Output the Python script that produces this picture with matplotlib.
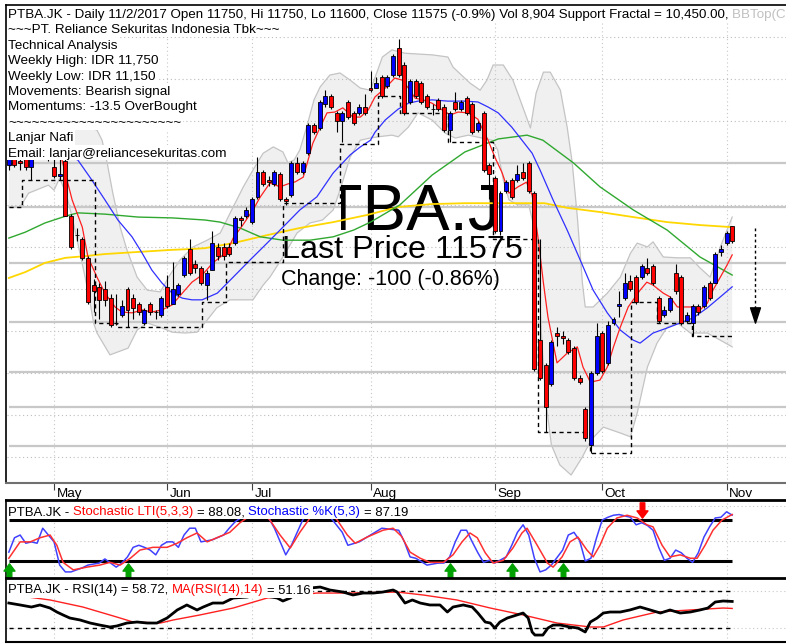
import numpy as np
import matplotlib
matplotlib.use('Agg')
import matplotlib.pyplot as plt
from matplotlib.path import Path
from matplotlib.patches import Rectangle
from matplotlib.transforms import Bbox

plt.rcParams['font.family'] = ['Liberation Sans', 'DejaVu Sans']

W, H = 786, 644

# ---- daily bars, late Apr 2017 .. 2 Nov 2017 (bar index = trading day) ----
opens = [12475, 12550, 12525, 12550, 12450, 12575, 12625, 12550, 12450, 12350,
         12525, 11875, 11650, 11600, 11375, 11050, 11025, 11000, 10900, 10600,
         10700, 11000, 10900, 10825, 10600, 10825, 10725, 10700, 11025, 10825,
         10950, 11175, 11475, 11300, 11250, 11050, 11225, 11500, 11500, 11500,
         11550, 11850, 11875, 11800, 12100, 12400, 12300, 12250, 12375, 12075,
         12125, 12500, 12400, 12625, 12950, 12925, 13200, 13300, 13100, 13000,
         13225, 13100, 13100, 13175, 13400, 13400, 13525, 13425, 13550, 13875,
         13675, 13225, 13475, 13450, 13300, 13150, 13250, 13175, 12900, 13225,
         13150, 13275, 13200, 12900, 13100, 12475, 12325, 11700, 12175, 12300,
         12300, 12400, 12500, 12150, 10400, 10100, 9875, 10475, 10450, 10400,
         10300, 9950, 9575, 9150, 10000, 10475, 10125, 10600, 10800, 10900,
         11100, 11150, 11150, 11250, 11275, 10900, 10700, 10750, 11200, 11150,
         10625, 10600, 10800, 10800, 11075, 11075, 11450, 11550, 11750]
highs = [12600, 12600, 12575, 12575, 12600, 12675, 12700, 12650, 12550, 12550,
         12575, 11900, 11725, 11625, 11400, 11125, 11075, 11100, 10950, 10950,
         10875, 11025, 10950, 10850, 10775, 10850, 10750, 10925, 11175, 11325,
         11075, 11400, 11600, 11350, 11275, 11225, 11700, 11550, 11550, 11550,
         11875, 11875, 11975, 12100, 12575, 12425, 12350, 12425, 12400, 12100,
         12525, 12575, 12525, 12975, 12975, 13250, 13375, 13325, 13125, 13125,
         13250, 13125, 13200, 13325, 13600, 13525, 13550, 13550, 13800, 13975,
         13700, 13500, 13500, 13475, 13325, 13200, 13275, 13200, 13125, 13350,
         13250, 13300, 13225, 13000, 13125, 12500, 12350, 12175, 12300, 12325,
         12475, 12500, 12525, 12175, 11600, 10125, 10400, 10550, 10500, 10425,
         10325, 9975, 9600, 10025, 10600, 10500, 10625, 10675, 10975, 11200,
         11175, 11175, 11300, 11375, 11300, 10925, 10800, 10925, 11300, 11175,
         10725, 10825, 10825, 11050, 11100, 11450, 11525, 11700, 11750]
lows = [12425, 12450, 12425, 12425, 12300, 12550, 12550, 12525, 12325, 12300,
        11875, 11475, 11575, 11350, 10825, 10725, 10650, 10800, 10550, 10575,
        10675, 10550, 10650, 10700, 10575, 10700, 10650, 10675, 10775, 10825,
        10925, 11150, 11175, 11200, 11050, 10875, 11225, 11350, 11350, 11400,
        11525, 11750, 11850, 11775, 12075, 12225, 12225, 12225, 12050, 12000,
        12100, 12375, 12375, 12600, 12850, 12900, 13175, 13150, 12875, 12750,
        13025, 12950, 13075, 13075, 13350, 13400, 13275, 13400, 13525, 13525,
        13075, 13200, 13275, 13200, 13150, 13075, 13125, 12875, 12750, 13125,
        13125, 13075, 12850, 12875, 12400, 12075, 11675, 11650, 12150, 12075,
        12275, 12300, 12150, 10025, 9925, 9300, 9850, 10325, 10350, 10225,
        9925, 9875, 9200, 9050, 9975, 10000, 10100, 10575, 10675, 10875,
        10975, 10825, 11125, 11175, 11050, 10600, 10675, 10725, 10950, 10575,
        10600, 10450, 10700, 10775, 10875, 11075, 11400, 11525, 11550]
closes = [12550, 12475, 12500, 12450, 12550, 12625, 12575, 12600, 12350, 12375,
          11875, 11500, 11650, 11375, 10850, 10975, 10875, 10875, 10575, 10600,
          10800, 10750, 10775, 10725, 10750, 10725, 10725, 10900, 10800, 11000,
          11050, 11375, 11200, 11250, 11075, 11200, 11550, 11400, 11400, 11425,
          11850, 11825, 11950, 12075, 12400, 12250, 12275, 12400, 12075, 12050,
          12500, 12400, 12500, 12950, 12875, 13225, 13300, 13175, 13000, 13100,
          13050, 12975, 13175, 13100, 13375, 13450, 13300, 13525, 13775, 13550,
          13100, 13475, 13300, 13225, 13175, 13150, 13150, 12900, 13100, 13150,
          13225, 13100, 12875, 12975, 12425, 12375, 11700, 12150, 12275, 12100,
          12375, 12325, 12175, 10050, 9950, 9600, 10375, 10450, 10425, 10250,
          9950, 9900, 9225, 10000, 10450, 10025, 10575, 10650, 10825, 11075,
          11000, 10850, 11275, 11200, 11075, 10625, 10750, 10900, 10975, 10600,
          10700, 10800, 10725, 11025, 10900, 11425, 11475, 11675, 11575]

month_names = ['May', 'Jun', 'Jul', 'Aug', 'Sep', 'Oct', 'Nov']
month_first_bar = [8, 28, 43, 64, 86, 105, 127]

# overlays: (bar position, value)
fast_pos = [9.4, 11.2, 13.0, 14.0, 15.6, 17.0, 18.8, 20.0, 21.8, 23.6, 25.3, 27.1, 28.9, 30.7,
            32.4, 34.2, 36.1, 38.6, 39.7, 41.4, 43.2, 44.5, 46.2, 48.0, 49.4, 50.7, 52.1, 53.8,
            55.1, 56.3, 57.7, 59.1, 60.9, 62.2, 63.6, 64.8, 66.6, 68.3, 69.6, 70.7, 71.9, 73.3,
            74.9, 76.7, 78.1, 79.5, 81.3, 83.0, 83.9, 84.8, 86.0, 87.3, 88.5, 90.1, 91.6, 92.6,
            93.7, 94.6, 95.4, 97.0, 98.8, 100.6, 101.6, 102.9, 104.6, 105.9, 107.0, 108.2, 109.6,
            111.7, 112.9, 114.0, 115.8, 117.0, 118.3, 119.3, 121.1, 122.3, 123.6, 124.6, 125.9,
            127.1, 128.0]
fast_val = [12540, 12065, 11740, 11385, 11145, 10955, 10790, 10730, 10720, 10755, 10730, 10755,
            10815, 10955, 11085, 11170, 11315, 11445, 11610, 11765, 11945, 12100, 12265, 12220,
            12255, 12280, 12335, 12740, 12930, 13100, 13110, 13160, 13050, 13050, 13135, 13290,
            13395, 13515, 13490, 13395, 13275, 13255, 13215, 13135, 13075, 13110, 13100, 13025,
            12895, 12775, 12575, 12385, 12145, 12220, 12275, 12120, 11585, 11075, 10670, 10125,
            10240, 10315, 10075, 9895, 9920, 10075, 10315, 10550, 10790, 10990, 11085, 11050,
            10955, 10910, 10790, 10790, 10790, 10755, 10835, 10990, 11145, 11290, 11410]

mid_pos = [0.2, 1.4, 5.0, 9.0, 12.2, 14.7, 17.0, 19.3, 21.8, 23.6, 25.3, 27.1, 28.9, 30.7, 32.4,
           34.2, 36.9, 39.7, 42.7, 45.7, 48.5, 51.5, 54.5, 57.4, 60.4, 62.2, 64.0, 64.8, 66.6,
           68.9, 70.7, 72.4, 74.9, 77.7, 80.7, 83.0, 84.8, 86.6, 89.0, 90.8, 92.6, 94.0, 96.3,
           98.8, 101.1, 103.4, 105.9, 108.2, 110.5, 111.7, 114.0, 116.5, 118.8, 121.1, 123.6,
           125.9, 128.0]
mid_val = [12470, 12550, 12635, 12620, 12540, 12300, 12065, 11825, 11625, 11430, 11230, 11075,
           10955, 10895, 10875, 10875, 10955, 11145, 11350, 11550, 11740, 11945, 12100, 12385,
           12600, 12695, 12775, 12870, 13015, 13145, 13215, 13240, 13255, 13240, 13240, 13230,
           13170, 13100, 12930, 12775, 12620, 12420, 12065, 11705, 11350, 10990, 10720, 10515,
           10395, 10360, 10480, 10540, 10600, 10660, 10780, 10910, 11030]

bb_up_pos = [0, 6, 12, 14.5, 15.6, 16.5, 17.4, 18.4, 19.7, 20.9, 22.7, 24.5, 26.8, 28.5, 30.3,
             32.6, 35.1, 37.4, 39.7, 41.5, 43.2, 45.0, 46.8, 48.5, 49.4, 50.5, 51.5, 52.8, 54.0,
             55.1, 56.8, 58.6, 60.4, 62.2, 64.0, 66.1, 67.8, 70.1, 75.0, 77.7, 78.6, 81.6, 83.4,
             84.6, 85.7, 87.5, 89.2, 92.3, 93.3, 94.6, 95.8, 97.6, 98.8, 99.7, 100.6, 101.5,
             102.0, 103.4, 105.9, 108.2, 110.0, 111.2, 113.0, 114.0, 115.8, 118.3, 120.6, 122.3,
             124.1, 125.9, 128.0]
bb_up_val = [12945, 12955, 12945, 12920, 12895, 12775, 12505, 12145, 11740, 11470, 11145, 10990,
             10970, 11170, 11350, 11505, 11585, 11670, 11980, 12220, 12420, 12620, 12695, 12635,
             12505, 12540, 12660, 12955, 13255, 13410, 13550, 13575, 13490, 13395, 13370, 13765,
             13850, 13810, 13790, 13765, 13645, 13455, 13370, 13490, 13670, 13670, 13490, 12920,
             13335, 13585, 13585, 13370, 12930, 12505, 11860, 11075, 10790, 10790, 10955, 11145,
             11430, 11550, 11505, 11565, 11385, 11375, 11375, 11255, 11145, 11505, 11860]
bb_lo_pos = [0, 2.0, 3.5, 7.0, 8.0, 9.0, 10.2, 11.2, 12.2, 13.5, 14.4, 15.0, 15.6, 17.9, 21.1,
             22.7, 24.5, 27.1, 28.9, 31.2, 33.3, 35.1, 36.8, 39.1, 41.0, 43.2, 45.0, 46.2, 48.5,
             51.0, 53.3, 55.5, 57.4, 58.6, 60.4, 62.2, 63.9, 65.3, 67.8, 68.9, 70.7, 72.4, 74.9,
             77.2, 79.0, 81.3, 85.5, 86.5, 87.5, 88.5, 90.0, 92.0, 93.5, 94.2, 95.0, 96.0, 97.5,
             99.5, 101.5, 103.0, 105.2, 108.2, 110.0, 111.2, 113.0, 114.7, 116.5, 118.3, 120.6,
             123.6, 125.9, 128.0]
bb_lo_val = [11980, 11980, 12145, 12240, 12180, 12325, 12120, 11860, 11550, 11145, 10835, 10600,
             10480, 10220, 10300, 10515, 10600, 10540, 10490, 10480, 10490, 10635, 10780, 10875,
             10875, 10875, 11050, 11145, 11385, 11670, 11790, 11825, 11945, 12180, 12575, 12775,
             12800, 12815, 12835, 12815, 12930, 13100, 13015, 12860, 12800, 12835, 12775, 12660,
             12300, 12065, 12005, 12005, 11585, 10515, 9685, 9150, 8910, 8790, 9005, 9205, 9360,
             9290, 9245, 9530, 10075, 10360, 10550, 10600, 10480, 10480, 10395, 10315]

slow_pos = [0, 2.9, 6.4, 10.0, 13.5, 17.0, 22.9, 28.9, 32.4, 34.7, 39.7, 45.7, 51.5, 57.4,
            63.4, 68.9, 74.9, 80.7, 86.6, 91.4, 94.8, 98.8, 104.6, 110.5, 116.5, 122.3, 128.0]
slow_val = [11135, 11205, 11315, 11375, 11395, 11420, 11445, 11470, 11480, 11490, 11550, 11645,
            11730, 11800, 11885, 11980, 12015, 12025, 12025, 12025, 12025, 11970, 11920, 11860,
            11800, 11765, 11740]

long_pos = [0, 2.9, 6.4, 10.0, 12.2, 17.0, 22.9, 28.9, 34.7, 37.4, 40.9, 44.5, 48.5, 53.3,
            57.4, 61.0, 64.0, 69.2, 74.9, 80.7, 86.6, 91.7, 94.5, 97.6, 99.9, 104.6, 110.5,
            116.5, 122.3, 128.0]
long_val = [11610, 11680, 11790, 11870, 11910, 11895, 11860, 11850, 11825, 11800, 11730, 11625,
            11585, 11585, 11625, 11705, 11800, 12005, 12360, 12635, 12790, 12835, 12775, 12620,
            12505, 12220, 11945, 11705, 11385, 11170]

# support fractal: bar position where each level starts
sup_pos = [0, 2.3, 15.3, 19.2, 34.2, 38.4, 48.5, 58.6, 65.3, 69.2, 77.7, 85.7, 93.7, 102.9,
           110.1, 114.7, 120.9]
sup_val = [11975, 12300, 10600, 10550, 10850, 11325, 12025, 12725, 13300, 13100, 12750, 11600,
           9300, 9050, 10850, 10600, 10450]

level_lines = [12500, 11980, 11315, 10610, 10015, 9600, 9135]

# stochastic
k_pos = [0, 1, 2, 3, 4, 5, 6, 7, 8, 9, 10, 11, 13, 14, 16, 17, 18, 19, 20, 21, 22, 23, 24, 25,
         26, 27, 28, 29, 30, 31, 32, 33, 34, 36, 38, 39, 40, 41, 42, 44, 45, 46, 47, 49, 50, 52,
         53, 55, 57, 59, 60, 62, 64, 66, 69, 70, 71, 72, 74, 76, 77, 78, 79, 80, 81, 82, 83, 84,
         85, 86, 88, 89, 90, 91, 92, 93, 94, 95, 96, 98, 99, 100, 101, 102, 103, 104, 105, 106,
         107, 108, 109, 110, 111, 112, 113, 114, 115, 116, 117, 118, 119, 120, 121, 122, 123,
         124, 125, 126, 127, 128]
k_val = [33, 54, 58, 46, 48, 46, 68, 58, 48, 14, 4, 4, 10, 14, 17, 23, 17, 11, 17, 26, 40, 43,
         40, 36, 29, 43, 48, 48, 40, 58, 68, 68, 48, 51, 58, 68, 77, 83, 90, 95, 92, 83, 68, 29,
         43, 80, 92, 97, 83, 62, 43, 48, 58, 68, 65, 48, 26, 24, 14, 17, 17, 26, 48, 65, 65, 48,
         32, 18, 21, 17, 26, 43, 62, 73, 58, 24, 4, 7, 14, 36, 58, 62, 50, 20, 24, 54, 80, 84,
         87, 88, 86, 84, 73, 76, 72, 65, 40, 21, 24, 36, 32, 24, 18, 32, 55, 70, 83, 84, 92,
         87.19]
d_pos = [0, 2, 3.8, 5.5, 7.3, 8.5, 9.6, 11.4, 13.8, 16.1, 17.9, 19.7, 21.5, 23.2, 25.5, 28.0,
         29.8, 31.5, 33.3, 35.1, 36.8, 39.1, 40.9, 43.0, 45.0, 46.2, 48.0, 49.8, 51.5, 53.3,
         55.0, 57.0, 58.1, 59.9, 61.3, 63.4, 66.2, 68.0, 69.5, 71.0, 72.8, 74.5, 76.9, 78.6,
         80.2, 81.6, 82.9, 84.3, 85.7, 87.5, 89.2, 90.8, 91.7, 93.5, 95.3, 96.3, 97.9, 99.3,
         100.7, 102.3, 103.4, 104.6, 105.9, 107.6, 109.4, 111.2, 112.9, 114.0, 115.6, 117.0,
         118.8, 120.6, 121.8, 123.2, 124.6, 126.2, 128.0]
d_val = [24, 48, 48, 54, 58, 43, 18, 7, 11, 14, 18, 14, 24, 36, 40, 40, 46, 54, 61, 48, 54, 62,
         76, 88, 90, 80, 58, 39, 62, 83, 92, 90, 80, 58, 46, 55, 65, 68, 56, 33, 24, 18, 18, 29,
         48, 61, 54, 32, 17, 21, 39, 61, 68, 43, 17, 11, 26, 48, 55, 36, 26, 43, 68, 83, 87, 83,
         73, 70, 43, 26, 29, 24, 24, 43, 65, 80, 88.08]
buy_bars = [0, 21, 78, 89, 98]
sell_bars = [112]

# RSI
rsi_pos = [0, 2, 4, 5.5, 7.3, 8.5, 9.6, 10.8, 12.6, 14.4, 16.1, 17.9, 19.1, 20.9, 22.7, 24.5,
           26.2, 28.0, 29.8, 31.5, 33.3, 34.4, 36.1, 37.9, 39.7, 42.2, 44, 46, 47.5, 48.5, 49.8,
           51, 53.3, 55.1, 56.8, 59.1, 60.9, 62.7, 64.5, 66.2, 68.0, 68.7, 70.1, 71.4, 72.8,
           74.5, 76.3, 77.6, 78.6, 80.4, 82.0, 83.0, 84.3, 85.2, 86.0, 86.9, 88.2, 89.9, 91.0,
           91.9, 92.6, 93.1, 94.5, 95.4, 96.3, 97.6, 99.3, 100.7, 102.0, 102.9, 104.1, 105.2,
           106.4, 108.2, 109.9, 111.7, 113.5, 115.3, 117.0, 118.8, 120.6, 122.3, 123.7, 125.0,
           126.4, 128.0]
rsi_val = [57, 54.9, 52.7, 54.9, 51.6, 47.3, 44.1, 40.8, 38.7, 35.4, 33.2, 31.1, 32.2, 35.4,
           36.5, 35.4, 35.4, 40.8, 49.5, 54.9, 49.5, 52.7, 57, 57, 62.4, 63.5, 66, 64, 62.4,
           59.2, 62.4, 68, 73.2, 74.3, 71.1, 68.9, 65.7, 67.8, 67.8, 68.9, 71.1, 68.9, 57, 60.3,
           57, 54.9, 54.9, 47.3, 52.7, 54.9, 52.7, 46.2, 36.5, 35.4, 30, 36.5, 40.8, 44.1, 46.2,
           40.8, 25.7, 22.4, 22.4, 30, 33.2, 33.2, 31.1, 30, 25.7, 36.5, 40.8, 46.2, 47.3, 47.3,
           49.5, 52.7, 49.5, 46.2, 49.5, 46.2, 47.3, 49.5, 51.6, 58.1, 59.2, 58.72]
rsi_ma_pos = [2, 7.3, 13.1, 19.1, 22.0, 26.8, 29.1, 33.8, 39.7, 45.7, 51.5, 54.5, 60.4, 68.7,
              73.3, 79.3, 85.2, 91.0, 97.0, 102.9, 105.2, 108.7, 114.7, 120.6, 126.4, 128]
rsi_ma_val = [64.6, 60.3, 52.7, 41.9, 36.5, 35.4, 38.7, 44.1, 51.6, 62.4, 65.7, 67.8, 67.8,
              68.9, 65.7, 60.3, 51.6, 44.1, 35.4, 31.1, 31.1, 38.7, 47.3, 49.5, 51.6, 51.16]

# ---------------------------------------------------------------------------
fig = plt.figure(figsize=(W / 100, H / 100), dpi=100)
fig.patch.set_facecolor('white')


def fx(px):
    return px / W


def fy(py):
    return 1 - py / H


L, R = 6, 800
ax = fig.add_axes([fx(L), fy(483), (R - L) / W, (483 - 5) / H])
ax_st = fig.add_axes([fx(L), fy(578), (R - L) / W, (578 - 500) / H])
ax_rsi = fig.add_axes([fx(L), fy(642), (R - L) / W, (642 - 578) / H])

n = len(closes)
last = n - 1
xlim = (-0.5, 140.0)
for a in (ax, ax_st, ax_rsi):
    a.set_xlim(*xlim)
    a.set_yticks([])
    a.spines['right'].set_visible(False)
    a.spines['left'].set_color('black')
    a.spines['left'].set_linewidth(1.2)
    for b in month_first_bar:
        a.axvline(b, color='#c8c8c8', lw=0.8, ls=(0, (1, 2.5)), zorder=0.4)

# ---- main price panel ----
ax.set_ylim(8695, 14384)
ax.spines['top'].set_linewidth(1.2)
ax.spines['bottom'].set_color('#707070')
ax.spines['bottom'].set_linewidth(1.5)

ax.fill(np.concatenate([bb_up_pos, bb_lo_pos[::-1]]),
        np.concatenate([bb_up_val, bb_lo_val[::-1]]),
        color='#f0f0f0', lw=0, zorder=0.2)
ax.plot(bb_up_pos, bb_up_val, color='#c4c4c4', lw=0.9, zorder=0.3)
ax.plot(bb_lo_pos, bb_lo_val, color='#c4c4c4', lw=0.9, zorder=0.3)

for p in range(9000, 14001, 500):
    ax.hlines(p, -0.3, xlim[1], color='#bdbdbd', lw=0.8, ls=(0, (1, 2.5)), zorder=0.5)
ax.hlines(level_lines, 0, xlim[1], color='#c8c8c8', lw=1.6, zorder=0.6)

ax.plot(slow_pos, slow_val, color='#ffd700', lw=1.3, zorder=2)
ax.plot(long_pos, long_val, color='#30a830', lw=1.0, zorder=2)
ax.plot(mid_pos, mid_val, color='#3030ff', lw=0.9, zorder=2)
ax.plot(fast_pos, fast_val, color='#ff2020', lw=0.9, zorder=2.1)

ax.plot(sup_pos + [last], sup_val + [sup_val[-1]], drawstyle='steps-post',
        color='black', lw=1.0, ls=(0, (3, 2.5)), zorder=2.5)

idx = np.arange(n)
o, h, l, c = (np.array(v, dtype=float) for v in (opens, highs, lows, closes))
body_col = np.where(c > o, '#0000ff', np.where(c < o, '#ff0000', 'black'))
ax.vlines(idx, l, h, color='black', lw=0.8, zorder=2.9)
ax.bar(idx, np.abs(c - o), bottom=np.minimum(o, c), width=0.7, color=body_col,
       edgecolor='black', linewidth=0.6, zorder=3)

# projected move towards the level line below
target = level_lines[3]
tx = last + 4
px_price = (14384 - 8695) / (483 - 5)
ax.plot([tx, tx], [h[-1] - 2 * px_price, target + 14 * px_price], color='black', lw=1.0,
        ls=(0, (2, 2)), zorder=3)
tri = Path([(-0.65, 1), (0.65, 1), (0, -1), (-0.65, 1)], closed=True)
ax.plot([tx], [target + 7.5 * px_price], marker=tri, ms=11, color='black', ls='none', zorder=3)

ax.set_xticks(month_first_bar)
ax.set_xticklabels([])
ax.tick_params(axis='x', length=5, width=0.8, color='#404040', direction='out')

# big watermark texts (the ticker is shown through a clipping window)
big = ax.text(fx(279.5), fy(229.5), 'PTBA.JK', transform=fig.transFigure, fontsize=47,
              color='black', va='baseline', ha='left', zorder=1.8)
big.set_clip_box(Bbox.from_extents(341, H - 236, 502, H - 168))
big.set_clip_on(True)
ax.text(fx(282), fy(258), 'Last Price %d' % closes[-1], transform=fig.transFigure,
        fontsize=23.3, color='black', va='baseline', ha='left', zorder=1.8)
chg = closes[-1] - closes[-2]
ax.text(fx(281), fy(285.5), 'Change: %d (%.2f%%)' % (chg, 100.0 * chg / closes[-2]),
        transform=fig.transFigure, fontsize=15.5, color='black', va='baseline', ha='left',
        zorder=1.8)

# ---- stochastic panel ----
ax_st.set_ylim(-4.9, 109.3)
ax_st.set_xticks([])
ax_st.spines['top'].set_linewidth(2)
ax_st.spines['bottom'].set_visible(False)
for lev in (100, 50):
    ax_st.axhline(lev, color='#c8c8c8', lw=0.8, ls=(0, (1, 2.5)), zorder=0.5)
ax_st.hlines([80, 20], 0, last, color='black', lw=2.2, zorder=1)
ax_st.plot(k_pos, k_val, color='#4040ff', lw=1.1, zorder=2)
ax_st.plot(d_pos, d_val, color='#ff3030', lw=1.1, zorder=2.1)
up_arrow = Path([(-0.3, -1), (0.3, -1), (0.3, 0.05), (0.72, 0.05), (0, 1), (-0.72, 0.05),
                 (-0.3, 0.05), (-0.3, -1)], closed=True)
down_arrow = Path([(x, -y) for x, y in up_arrow.vertices], closed=True)
ax_st.plot(buy_bars, [6] * len(buy_bars), ls='none', marker=up_arrow, ms=11,
           color='#00a000', clip_on=False, zorder=3)
ax_st.plot(sell_bars, [94.5] * len(sell_bars), ls='none', marker=down_arrow, ms=11,
           color='#ff0000', clip_on=False, zorder=3)

# ---- RSI panel ----
ax_rsi.set_ylim(14.9, 84.05)
ax_rsi.set_xticks([])
ax_rsi.spines['top'].set_linewidth(2)
ax_rsi.spines['bottom'].set_linewidth(1.5)
for lev in (70, 30):
    ax_rsi.axhline(lev, color='#c8c8c8', lw=0.8, ls=(0, (1, 2.5)), zorder=0.5)
ax_rsi.hlines([70, 30], 0, last, color='black', lw=1.0, ls=(0, (3, 3)), zorder=1)
ax_rsi.plot(rsi_ma_pos, rsi_ma_val, color='#ff2020', lw=1.0, zorder=2)
ax_rsi.plot(rsi_pos, rsi_val, color='black', lw=2.0, zorder=2.1)

# ---- text overlays (each line sits on its own white strip) ----
renderer = fig.canvas.get_renderer()
FS = 9.7


def text_width(s, size):
    t = fig.text(0, 0, s, fontsize=size)
    w = t.get_window_extent(renderer).width
    t.remove()
    return w


def write_line(x, base, parts, size=FS, box=None):
    gap = text_width('a a', size) - text_width('aa', size)
    cx = x
    for k, (s, col) in enumerate(parts):
        if k:
            cx += gap
        t = fig.text(fx(cx), fy(base), s, color=col, fontsize=size, va='baseline',
                     ha='left', zorder=4)
        cx += t.get_window_extent(renderer).width
    if box is not None:
        top, bottom = box
        fig.add_artist(Rectangle((fx(x - 1), fy(bottom)), (cx - x + 3) / W, (bottom - top) / H,
                                 transform=fig.transFigure, facecolor='white',
                                 edgecolor='none', zorder=3.5))
    return cx


header = ('PTBA.JK - Daily 11/2/2017 Open %d, Hi %d, Lo 11600, Close %d (-0.9%%) Vol 8,904 '
          'Support Fractal = %s,' % (opens[-1], highs[-1], closes[-1],
                                     format(sup_val[-1], ',.2f')))
write_line(8, 18, [(header, 'black'), ('BBTop(C,20,2) = 12,139.06', '#c0c0c0')],
           size=9.63, box=(6.5, 21.5))

info_lines = [
    '~~~PT. Reliance Sekuritas Indonesia Tbk~~~',
    'Technical Analysis',
    'Weekly High: IDR 11,750',
    'Weekly Low: IDR 11,150',
    'Movements: Bearish signal',
    'Momentums: -13.5 OverBought',
    '~' * 22,
    'Lanjar Nafi',
    'Email: lanjar@reliancesekuritas.com',
]
step = 15.4
for k, s in enumerate(info_lines):
    base = 18 + step * (k + 1)
    write_line(8, base, [(s, 'black')], box=(base - step + 3.8, base + 3.8))

write_line(8, 515.5, [('PTBA.JK -', 'black'), ('Stochastic LTI(5,3,3)', '#ff0000'),
                      ('= %.2f,' % d_val[-1], 'black'), ('Stochastic %K(5,3)', '#0000ff'),
                      ('= %.2f' % k_val[-1], 'black')], size=9.45, box=(501.5, 518.8))
write_line(8, 593.5, [('PTBA.JK - RSI(14) = %.2f,' % rsi_val[-1], 'black'),
                      ('MA(RSI(14),14)', '#ff0000'), ('= %.2f' % rsi_ma_val[-1], 'black')],
           size=9.4, box=(579.5, 597.8))

# month labels to the right of each tick
for b, name in zip(month_first_bar, month_names):
    xp = ax.transData.transform((b, 0))[0]
    fig.text(fx(xp + 2.5), fy(497), name, fontsize=FS, color='black', va='baseline',
             ha='left', zorder=4)

fig.savefig('out.png', dpi=100, facecolor='white')
